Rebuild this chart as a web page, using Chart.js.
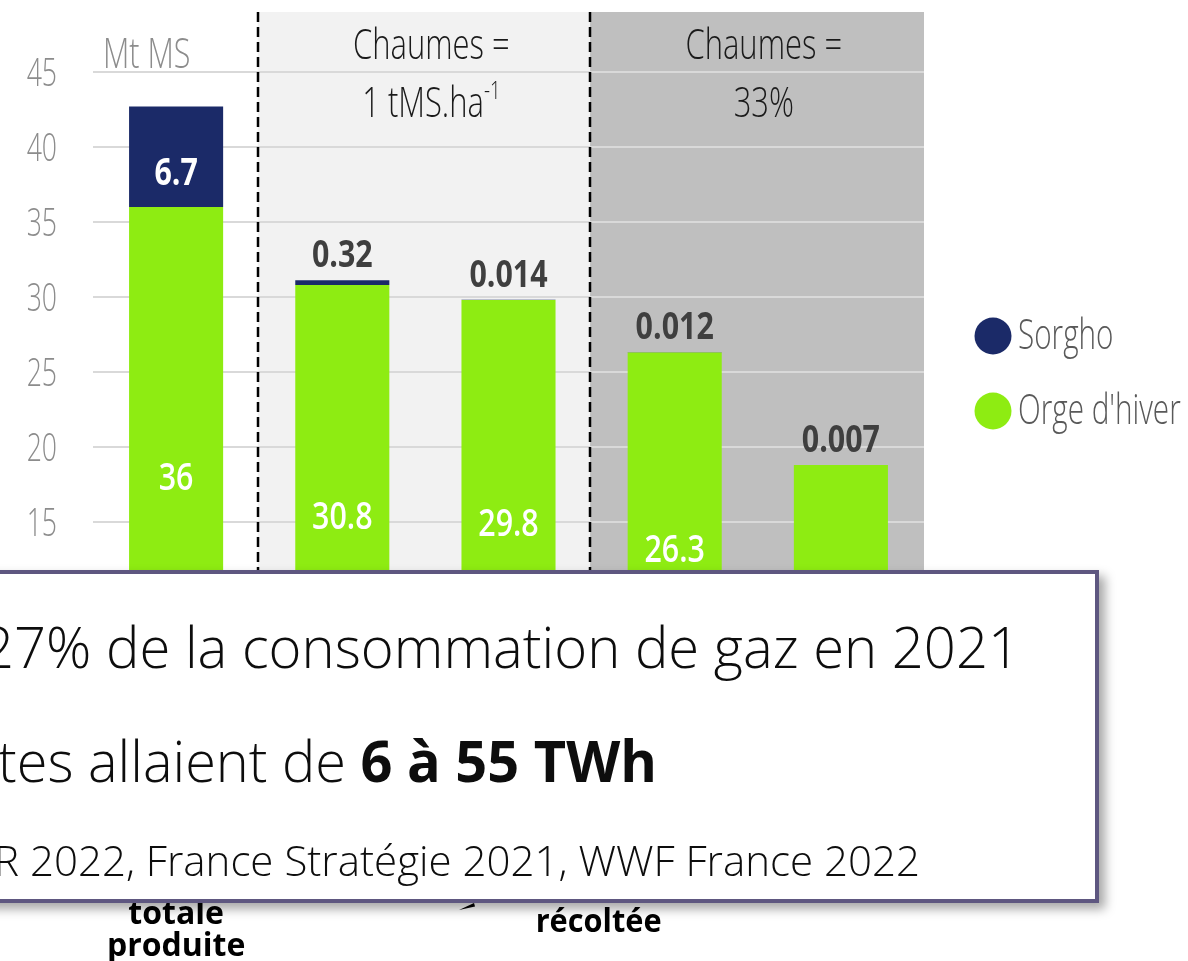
<!DOCTYPE html>
<html lang="fr">
<head>
<meta charset="utf-8">
<title>Orge d'hiver et sorgho – Mt MS</title>
<script src="https://cdn.jsdelivr.net/npm/chart.js@4.4.1/dist/chart.umd.min.js"></script>
<style>
  html, body { margin: 0; padding: 0; background: #fff; overflow: hidden; }
  canvas { display: block; }
</style>
</head>
<body>
<canvas id="graphique" width="1188" height="961"></canvas>
<script>
// Données (Mt MS)
const categories = [['totale', 'produite'], '', '', '', ''];
const orgeHiver = [36, 30.8, 29.8, 26.3, 18.8];
const sorgho = [6.7, 0.32, 0.014, 0.012, 0.007];
const axeMax = 49;
const pasAxe = 5;
const uniteAxe = 'Mt MS';
const libelleGroupe = 'récoltée';

// Scénarios sur les chaumes (bornes en index de catégorie)
const scenarios = [
    { debut: 0.5, fin: 2.5, fond: '#f2f2f2', titre: 'Chaumes =', sousTitre: '1 tMS.ha', exposant: '-1' },
    { debut: 2.5, fin: 4.5, fond: '#bfbfbf', titre: 'Chaumes =', sousTitre: '33%', exposant: '' }
];

// Encart de texte posé par-dessus le graphique
const encartLigne1 = '27% de la consommation de gaz en 2021';
const encartLigne2 = 'tes allaient de ';
const encartLigne2Gras = '6 à 55 TWh';
const encartSources = 'R 2022, France Stratégie 2021, WWF France 2022';

const VERT = '#8eec12';
const BLEU = '#1b2a68';
const SANS = "'Open Sans', 'Noto Sans', sans-serif";
const CONDENSE = 0.72; // compression horizontale des textes "condensés"

// Texte avec compression horizontale
function ecrire(ctx, texte, x, y, police, couleur, etirement = 1, align = 'center') {
    ctx.save();
    ctx.font = police;
    ctx.fillStyle = couleur;
    ctx.textAlign = align;
    ctx.textBaseline = 'alphabetic';
    ctx.translate(x, y);
    ctx.scale(etirement, 1);
    ctx.fillText(texte, 0, 0);
    ctx.restore();
}

// Ligne ajustée entre x0 et x1 (plusieurs morceaux de police différente)
function ligneAjustee(ctx, morceaux, x0, x1, y) {
    const largeurs = morceaux.map(([t, p]) => { ctx.font = p; return ctx.measureText(t).width; });
    const etirement = (x1 - x0) / largeurs.reduce((a, b) => a + b, 0);
    let x = x0;
    morceaux.forEach(([t, p], i) => {
        ecrire(ctx, t, x, y, p, '#0d0d0d', etirement, 'left');
        x += largeurs[i] * etirement;
    });
}

// Fonds gris des scénarios, séparateurs pointillés, titres et graduations
const fondScenarios = {
    id: 'fondScenarios',
    beforeDraw(chart) {
        const { ctx, chartArea, scales: { x } } = chart;
        ctx.save();
        ctx.fillStyle = '#fff';
        ctx.fillRect(0, 0, chart.width, chart.height);
        scenarios.forEach(s => {
            const x0 = x.getPixelForValue(s.debut) - 1.5;
            const x1 = x.getPixelForValue(s.fin);
            ctx.fillStyle = s.fond;
            ctx.fillRect(x0, chartArea.top, x1 - x0, chartArea.bottom - chartArea.top);
        });
        ctx.restore();
    },
    beforeDatasetsDraw(chart) {
        const { ctx, chartArea, scales: { x, y } } = chart;
        ctx.save();
        ctx.strokeStyle = '#000';
        ctx.lineWidth = 2.5;
        ctx.setLineDash([10, 5]);
        scenarios.forEach(s => {
            const xs = Math.round(x.getPixelForValue(s.debut) - 1.5);
            ctx.beginPath();
            ctx.moveTo(xs, chartArea.top);
            ctx.lineTo(xs, chartArea.bottom);
            ctx.stroke();
        });
        ctx.restore();

        scenarios.forEach(s => {
            const cx = (x.getPixelForValue(s.debut) + x.getPixelForValue(s.fin)) / 2 + 6;
            ecrire(ctx, s.titre, cx, chartArea.top + 47, `300 43px ${SANS}`, '#1a1a1a', CONDENSE);
            ctx.font = `300 43px ${SANS}`;
            const l1 = ctx.measureText(s.sousTitre).width * CONDENSE;
            ctx.font = `300 26px ${SANS}`;
            const l2 = ctx.measureText(s.exposant).width * CONDENSE;
            const debut = cx - (l1 + l2) / 2;
            ecrire(ctx, s.sousTitre, debut, chartArea.top + 105, `300 43px ${SANS}`, '#1a1a1a', CONDENSE, 'left');
            if (s.exposant) {
                ecrire(ctx, s.exposant, debut + l1, chartArea.top + 87, `300 26px ${SANS}`, '#1a1a1a', CONDENSE, 'left');
            }
        });

        // graduations de l'axe des valeurs
        y.ticks.forEach(t => {
            ecrire(ctx, t.label, chartArea.left - 36, y.getPixelForValue(t.value) + 13.5, `300 38px ${SANS}`, '#8c8c8c', 0.7, 'right');
        });
        ecrire(ctx, uniteAxe, chartArea.left + 10, chartArea.top + 56, `300 43px ${SANS}`, '#8c8c8c', 0.71, 'left');
    }
};

// Valeurs affichées sur les barres
const etiquettesValeurs = {
    id: 'etiquettesValeurs',
    afterDatasetsDraw(chart) {
        const { ctx } = chart;
        chart.getDatasetMeta(0).data.forEach((barre, i) => {
            ecrire(ctx, String(orgeHiver[i]), barre.x, (barre.y + barre.base) / 2 + 13, `600 38px ${SANS}`, '#fff', 0.8);
        });
        chart.getDatasetMeta(1).data.forEach((barre, i) => {
            if (barre.base - barre.y > 40) {
                ecrire(ctx, String(sorgho[i]), barre.x, barre.base - 22, `bold 38px ${SANS}`, '#fff', 0.8);
            } else {
                ecrire(ctx, String(sorgho[i]), barre.x, barre.y - 13, `bold 38px ${SANS}`, '#3f3f3f', 0.8);
            }
        });
    }
};

// Légende à droite (Sorgho au-dessus) et libellé des barres récoltées
const legende = {
    id: 'legende',
    afterDraw(chart) {
        const { ctx, chartArea } = chart;
        const x = chartArea.right + 69;
        const yMilieu = (chartArea.top + chartArea.bottom) / 2 - 6;
        const items = chart.data.datasets.slice().reverse();
        items.forEach((ds, i) => {
            const y = yMilieu + (i - (items.length - 1) / 2) * 75;
            ctx.beginPath();
            ctx.arc(x, y, 18.5, 0, Math.PI * 2);
            ctx.fillStyle = ds.backgroundColor;
            ctx.fill();
            ecrire(ctx, ds.label, x + 25, y + 13, `300 43px ${SANS}`, '#595959', 0.69, 'left');
        });

        const xs = chart.scales.x;
        ecrire(ctx, libelleGroupe, xs.getPixelForValue(2.5) + 7, 932, `bold 32px ${SANS}`, '#000', 0.96);

        // pointe de flèche dépassant sous l'encart
        ctx.save();
        ctx.fillStyle = '#000';
        ctx.beginPath();
        ctx.moveTo(459, 910);
        ctx.lineTo(474, 903);
        ctx.lineTo(475, 906.5);
        ctx.closePath();
        ctx.fill();
        ctx.restore();
    }
};

// Encart blanc avec ombre
const encart = {
    id: 'encart',
    afterDraw(chart) {
        const { ctx } = chart;
        const gauche = -20, haut = 570, droite = 1099, bas = 903;
        ctx.save();
        ctx.shadowColor = 'rgba(0, 0, 0, 0.35)';
        ctx.shadowBlur = 10;
        ctx.shadowOffsetX = 6;
        ctx.shadowOffsetY = 6;
        ctx.fillStyle = '#fff';
        ctx.fillRect(gauche, haut, droite - gauche, bas - haut);
        ctx.restore();
        ctx.save();
        ctx.strokeStyle = '#5e5780';
        ctx.lineWidth = 4;
        ctx.strokeRect(gauche + 2, haut + 2, droite - gauche - 4, bas - haut - 4);
        ctx.restore();

        ligneAjustee(ctx, [[encartLigne1, `300 57px ${SANS}`]], -18, 1020, 668);
        ligneAjustee(ctx, [[encartLigne2, `300 57px ${SANS}`], [encartLigne2Gras, `bold 57px ${SANS}`]], -2, 657, 782);
        ligneAjustee(ctx, [[encartSources, `300 42px ${SANS}`]], -6, 920, 876);
    }
};

new Chart(document.getElementById('graphique'), {
    type: 'bar',
    data: {
        labels: categories,
        datasets: [
            { label: "Orge d'hiver", data: orgeHiver, backgroundColor: VERT },
            { label: 'Sorgho', data: sorgho, backgroundColor: BLEU }
        ]
    },
    options: {
        responsive: false,
        animation: false,
        layout: { autoPadding: false, padding: { top: 12, right: 264, left: 0, bottom: 0 } },
        datasets: { bar: { categoryPercentage: 1, barPercentage: 0.566 } },
        scales: {
            x: {
                stacked: true,
                // l'écart sous le graphique passe par la longueur de graduation (invisible)
                grid: { drawOnChartArea: false, drawTicks: true, tickLength: 148, tickColor: 'transparent' },
                border: { display: false },
                ticks: {
                    color: '#000',
                    padding: 4,
                    autoSkip: false,
                    maxRotation: 0,
                    font: { family: SANS, size: 32, weight: 'bold', lineHeight: 1.0 }
                },
                afterFit(axe) { axe.height = 214; }
            },
            y: {
                stacked: true,
                min: 0,
                max: axeMax,
                afterBuildTicks(axe) { axe.ticks = axe.ticks.filter(t => t.value % pasAxe === 0); },
                grid: { color: '#d9d9d9', lineWidth: 2, drawTicks: false },
                border: { display: false },
                ticks: { stepSize: pasAxe, display: false },
                afterFit(axe) { axe.width = 93; }
            }
        },
        plugins: {
            legend: { display: false },
            tooltip: { enabled: false }
        }
    },
    plugins: [fondScenarios, etiquettesValeurs, legende, encart]
});
</script>
</body>
</html>
